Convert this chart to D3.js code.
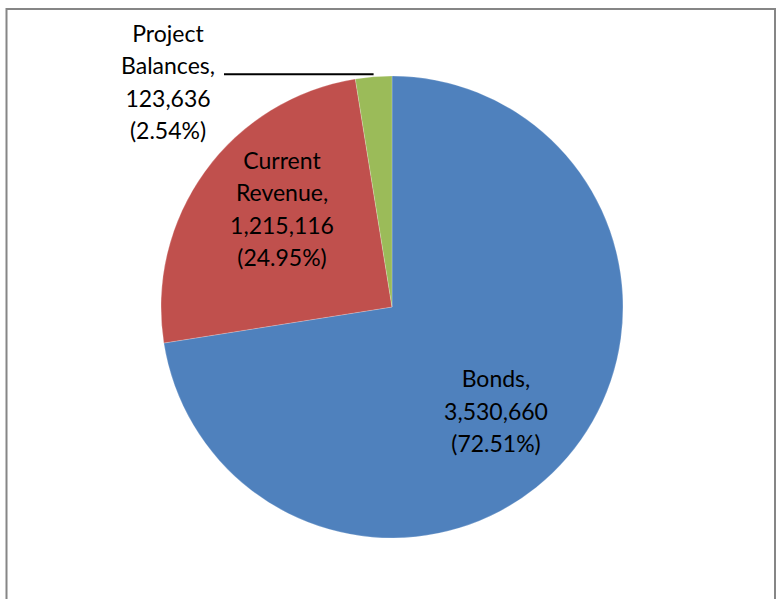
<!DOCTYPE html>
<html>
<head>
<meta charset="utf-8">
<script src="https://cdn.jsdelivr.net/npm/d3@7"></script>
<style>
  html, body { margin: 0; padding: 0; background: #ffffff; }
  svg { display: block; }
  text { font-family: Lato, "Open Sans", sans-serif; fill: #000; }
</style>
</head>
<body>
<svg id="chart" width="777" height="599"></svg>
<script>
// Funding sources
const categories = ["Bonds", "Current Revenue", "Project Balances"];
const amounts = [3530660, 1215116, 123636];
const percentLabels = ["72.51%", "24.95%", "2.54%"];
const sliceColors = ["#4F81BD", "#C0504D", "#9BBB59"];

const W = 777, H = 599;
const cx = 392, cy = 307, radius = 231;
const fontSize = 23, lineGap = 32.5;

const svg = d3.select("#chart");

// chart frame
svg.append("rect")
  .attr("x", 6.5).attr("y", 9)
  .attr("width", 768.5).attr("height", H + 20)
  .attr("fill", "#fff")
  .attr("stroke", "#868686")
  .attr("stroke-width", 2);

const pie = d3.pie().sort(null).value(d => d)
  .startAngle(0).endAngle(2 * Math.PI);
const arcs = pie(amounts);
const arc = d3.arc().innerRadius(0).outerRadius(radius);

const g = svg.append("g").attr("transform", `translate(${cx},${cy})`);

g.selectAll("path.slice")
  .data(arcs)
  .join("path")
  .attr("class", "slice")
  .attr("d", arc)
  .attr("fill", (d, i) => sliceColors[i])
  .attr("stroke", "rgba(255,255,255,0.35)")
  .attr("stroke-width", 0.6);

const fmt = d3.format(",");

// label blocks: [center x, first baseline y] relative to the pie centre
const labelPos = [
  [104, 80],
  [-110, -138.5],
  [-224, -265.5]
];
const labelLines = i => {
  const words = categories[i].split(" ");
  const lines = words.map((w, k) => k === words.length - 1 ? w + "," : w);
  return lines.concat([fmt(amounts[i]), "(" + percentLabels[i] + ")"]);
};

arcs.forEach((d, i) => {
  const t = g.append("text")
    .attr("text-anchor", "middle")
    .attr("font-size", fontSize);
  labelLines(i).forEach((ln, k) => {
    t.append("tspan")
      .attr("x", labelPos[i][0])
      .attr("y", labelPos[i][1] + k * lineGap)
      .text(ln);
  });
});

// leader line for the small slice
const small = arcs[2];
const mid = (small.startAngle + small.endAngle) / 2;
const ex = radius * Math.sin(mid), ey = -radius * Math.cos(mid);
g.append("line")
  .attr("x1", -168).attr("y1", ey - 2.5)
  .attr("x2", ex).attr("y2", ey - 2.5)
  .attr("stroke", "#000")
  .attr("stroke-width", 2);
</script>
</body>
</html>
